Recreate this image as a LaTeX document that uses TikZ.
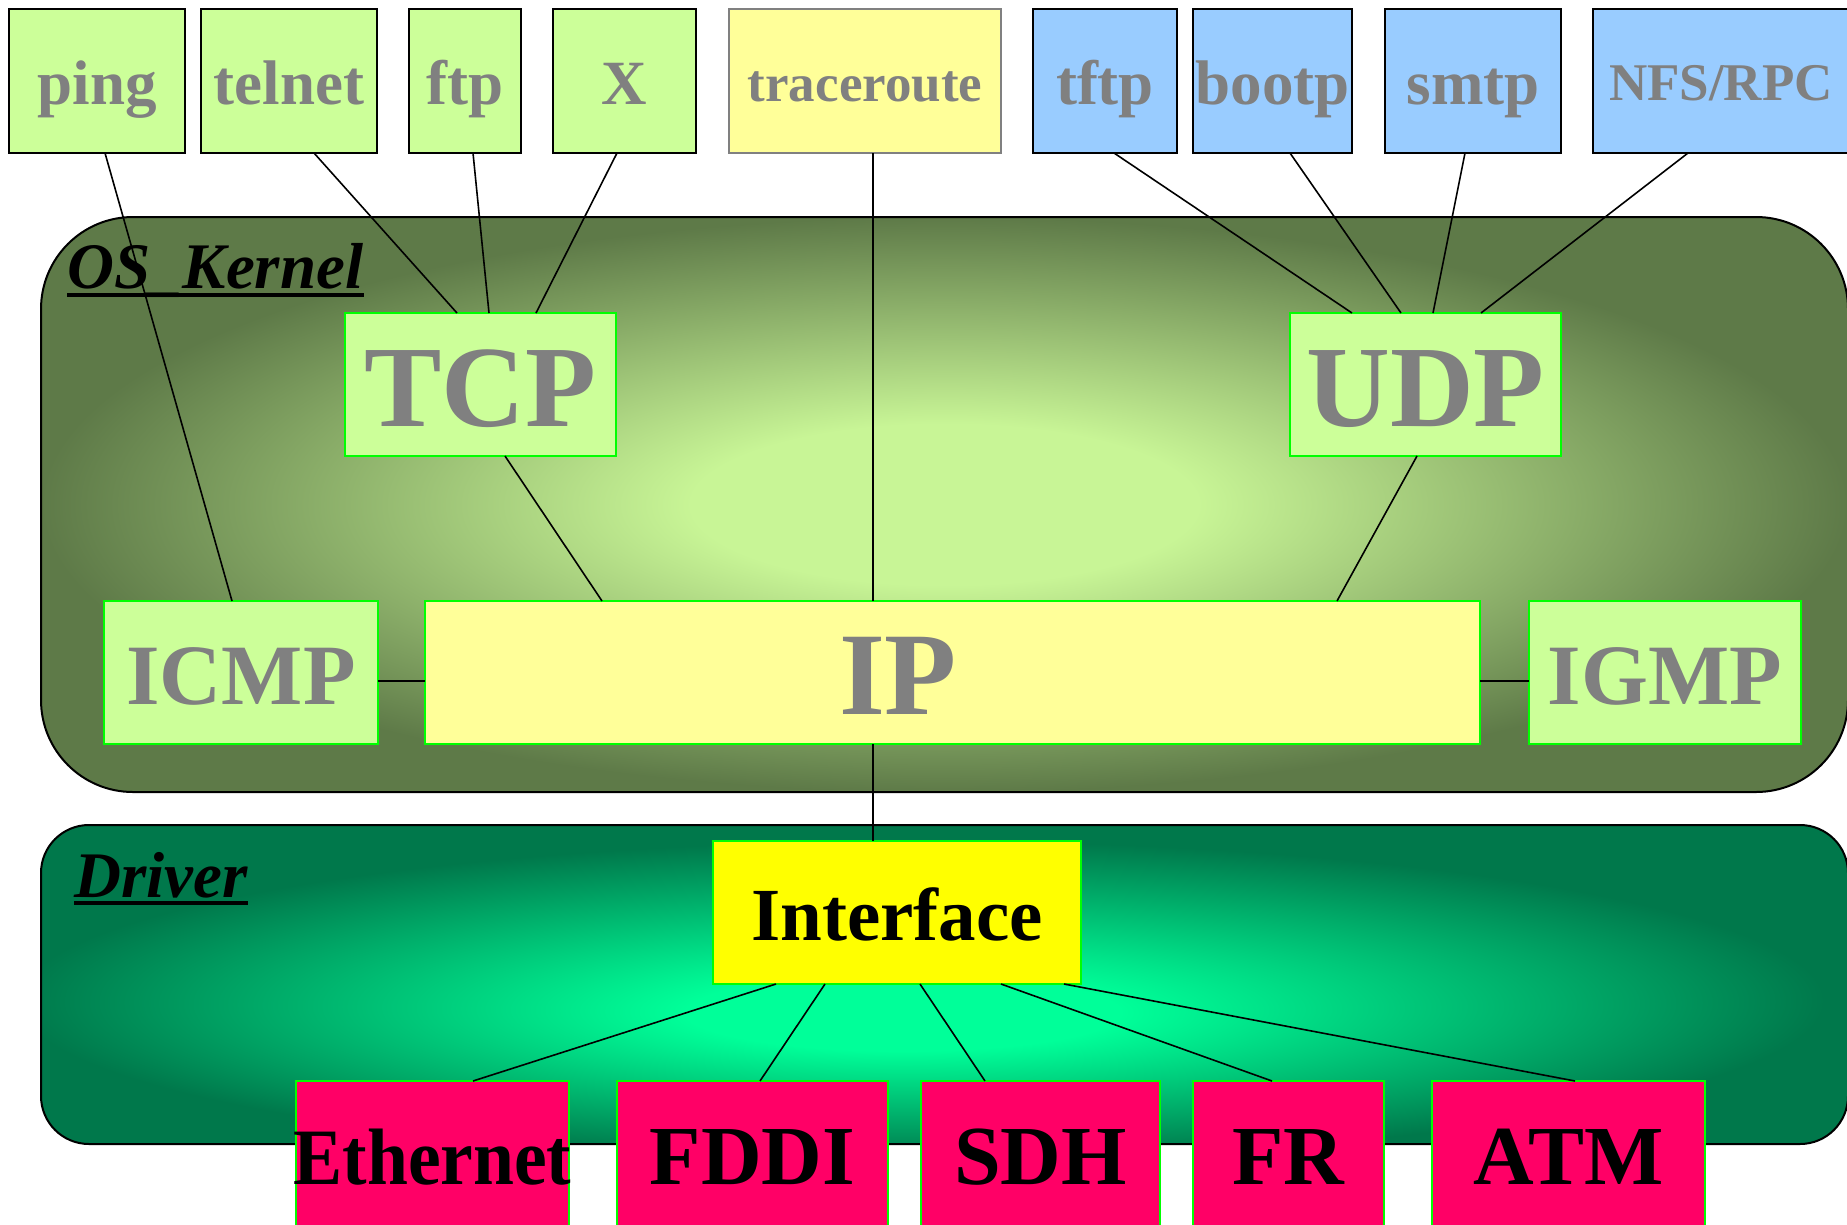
\documentclass[tikz,border=0pt]{standalone}
\usepackage{fontspec}
\setmainfont{Liberation Serif}
\usepackage{graphicx}
\definecolor{appgreen}{HTML}{CCFF99}
\definecolor{appblue}{HTML}{99CCFF}
\definecolor{paleyellow}{HTML}{FFFF99}
\definecolor{brightgreen}{HTML}{00FF00}
\definecolor{midgray}{HTML}{808080}
\definecolor{hotpink}{HTML}{FF0066}
\definecolor{ifyellow}{HTML}{FFFF00}
\definecolor{kin}{RGB}{200,245,150}
\definecolor{kout}{RGB}{94,122,72}
\definecolor{din}{RGB}{0,255,153}
\definecolor{dout}{RGB}{0,120,75}
\pgfdeclareradialshading{kernelshade}{\pgfpoint{0bp}{0bp}}{color(0bp)=(kin); color(7bp)=(kin); color(25bp)=(kout); color(50bp)=(kout)}
\pgfdeclareradialshading{drivershade}{\pgfpoint{-1.3bp}{-5bp}}{color(0bp)=(din); color(6bp)=(din); color(25bp)=(dout); color(50bp)=(dout)}
\newcommand{\fsz}[1]{\fontsize{#1}{#1}\selectfont}
\tikzset{
  box/.style={anchor=north west, inner sep=0pt, outer sep=0pt, line width=2pt},
  app/.style={box, draw=black, fill=appgreen, text=midgray, minimum height=144pt,
    text height=47pt, text depth=0pt, font=\bfseries\fsz{63}},
  appb/.style={app, fill=appblue},
  proto/.style={box, draw=brightgreen, fill=appgreen, text=midgray, minimum height=143pt,
    text height=83pt, text depth=0pt, font=\bfseries\fsz{116}},
  small/.style={box, draw=brightgreen, fill=appgreen, text=midgray, minimum height=143pt,
    text height=63pt, text depth=0pt, font=\bfseries\fsz{86}},
  link/.style={box, draw=brightgreen, line width=1.5pt, fill=hotpink, text=black, minimum height=145pt,
    text height=61pt, text depth=0pt, font=\bfseries\fsz{84}},
  area/.style={anchor=north west, inner sep=0pt, outer sep=0pt, draw=black, line width=2pt},
  title/.style={anchor=base west, inner sep=0pt, font=\bfseries\itshape\fsz{65}},
  conn/.style={draw=black, line width=1.6pt},
}
\begin{document}
\begin{tikzpicture}[x=1pt,y=-1pt]
\useasboundingbox (0,0) rectangle (1847,1224);
% areas
\node[area, rounded corners=92pt, shading=kernelshade, minimum width=1807pt, minimum height=575pt] (kernel) at (41,217) {};
\node[area, rounded corners=48pt, shading=drivershade, minimum width=1807pt, minimum height=319pt] (driver) at (41,825) {};
\node[title] (klabel) at (67,288) {OS\_Kernel};
\draw[line width=4pt] ([yshift=-7pt]klabel.base west) -- ([yshift=-7pt]klabel.base east);
\node[title] (dlabel) at (74,897) {Driver};
\draw[line width=4pt] ([yshift=-6pt]dlabel.base west) -- ([yshift=-6pt]dlabel.base east);
% top row
\node[app, minimum width=176pt] (ping) at (9,9) {ping};
\node[app, minimum width=176pt] (telnet) at (201,9) {telnet};
\node[app, minimum width=112pt] (ftp) at (409,9) {ftp};
\node[app, minimum width=143pt] (x) at (553,9) {X};
\node[app, fill=paleyellow, draw=midgray, minimum width=272pt, text height=41pt, font=\bfseries\fsz{53}] (trace) at (729,9) {traceroute};
\node[appb, minimum width=144pt] (tftp) at (1033,9) {tftp};
\node[appb, minimum width=159pt] (bootp) at (1193,9) {bootp};
\node[appb, minimum width=176pt] (smtp) at (1385,9) {smtp};
\node[appb, minimum width=256pt, text height=39pt, font=\bfseries\fsz{53}] (nfs) at (1593,9) {NFS/RPC};
% kernel protocols
\node[proto, minimum width=271pt] (tcp) at (345,313) {TCP};
\node[proto, minimum width=271pt] (udp) at (1290,313) {UDP};
\node[small, minimum width=274pt] (icmp) at (104,601) {ICMP};
\node[proto, fill=paleyellow, minimum width=1055pt, font=\bfseries\fsz{118}] (ip) at (425,601) {\hspace*{-109pt}IP};
\node[small, minimum width=272pt] (igmp) at (1529,601) {IGMP};
% driver
\node[box, draw=brightgreen, fill=ifyellow, text=black, minimum width=368pt, minimum height=143pt,
  text height=55pt, text depth=0pt, font=\bfseries\fsz{75}] (iface) at (713,841) {Interface};
\node[link, minimum width=273pt] (eth) at (296,1081) {\makebox[0pt][c]{\scalebox{0.92}[1]{\fsz{80}Ethernet}}};
\node[link, minimum width=271pt] (fddi) at (617,1081) {FDDI};
\node[link, minimum width=239pt] (sdh) at (921,1081) {SDH};
\node[link, minimum width=191pt] (fr) at (1193,1081) {FR};
\node[link, minimum width=273pt] (atm) at (1432,1081) {ATM};
% connectors
\draw[conn] ([xshift=96pt]ping.south west) -- ([xshift=128pt]icmp.north west);
\draw[conn] ([xshift=113pt]telnet.south west) -- ([xshift=112pt]tcp.north west);
\draw[conn] ([xshift=64pt]ftp.south west) -- ([xshift=144pt]tcp.north west);
\draw[conn] ([xshift=64pt]x.south west) -- ([xshift=191pt]tcp.north west);
\draw[conn] ([xshift=144pt]trace.south west) -- ([xshift=448pt]ip.north west);
\draw[conn] ([xshift=81pt]tftp.south west) -- ([xshift=62pt]udp.north west);
\draw[conn] ([xshift=97pt]bootp.south west) -- ([xshift=111pt]udp.north west);
\draw[conn] ([xshift=80pt]smtp.south west) -- ([xshift=143pt]udp.north west);
\draw[conn] ([xshift=95pt]nfs.south west) -- ([xshift=191pt]udp.north west);
\draw[conn] ([xshift=160pt]tcp.south west) -- ([xshift=177pt]ip.north west);
\draw[conn] ([xshift=127pt]udp.south west) -- ([xshift=912pt]ip.north west);
\draw[conn] ([yshift=-8.5pt]icmp.east) -- ([yshift=-8.5pt]ip.west);
\draw[conn] ([yshift=-8.5pt]igmp.west) -- ([yshift=-8.5pt]ip.east);
\draw[conn] ([xshift=448pt]ip.south west) -- ([xshift=160pt]iface.north west);
\draw[conn] ([xshift=63pt]iface.south west) -- ([xshift=177pt]eth.north west);
\draw[conn] ([xshift=112pt]iface.south west) -- ([xshift=143pt]fddi.north west);
\draw[conn] ([xshift=207pt]iface.south west) -- ([xshift=64pt]sdh.north west);
\draw[conn] ([xshift=288pt]iface.south west) -- ([xshift=79pt]fr.north west);
\draw[conn] ([xshift=351pt]iface.south west) -- ([xshift=143pt]atm.north west);
\end{tikzpicture}
\end{document}
